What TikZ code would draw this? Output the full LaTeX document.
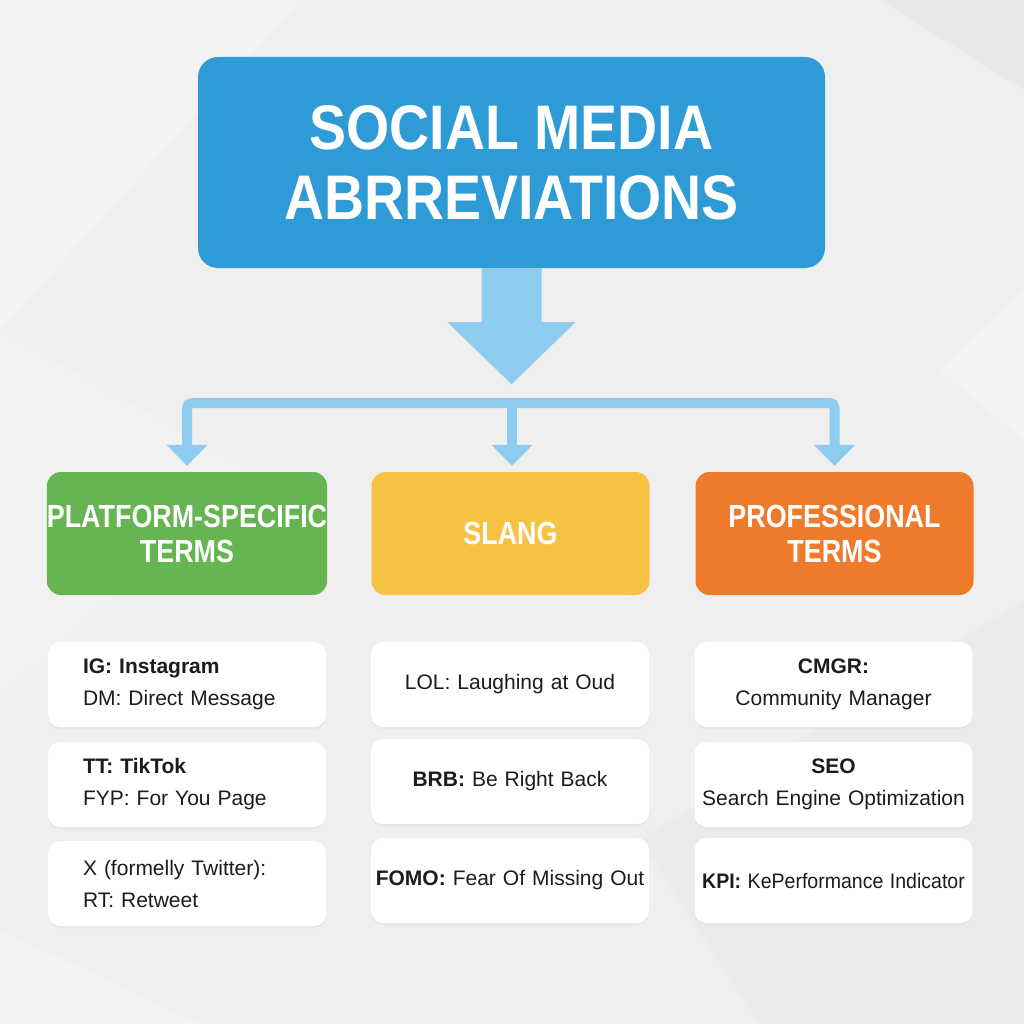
\documentclass[tikz,border=0pt]{standalone}
\usepackage{fontspec}
\setmainfont{Liberation Sans}
\usetikzlibrary{arrows.meta,shadows,calc}
\definecolor{bgc}{HTML}{EFEFEF}
\definecolor{titleblue}{HTML}{2F9BD6}
\definecolor{lightblue}{HTML}{8DCCEE}
\definecolor{catgreen}{HTML}{66B552}
\definecolor{catyellow}{HTML}{F5C243}
\definecolor{catorange}{HTML}{EE7B2C}
\definecolor{ink}{HTML}{1C1C1C}
\tikzset{
  titlebox/.style={fill=titleblue, rounded corners=20pt, minimum width=627pt, minimum height=211pt,
    text=white, align=center, font=\bfseries\fontsize{63}{70}\selectfont, inner sep=0pt},
  catbox/.style={fill=#1, rounded corners=14pt, minimum width=278pt, minimum height=123pt,
    text=white, align=center, font=\bfseries\fontsize{32}{35}\selectfont, inner sep=0pt},
  itembox/.style={fill=white, rounded corners=12pt, minimum width=278pt, minimum height=85pt,
    text=ink, font=\fontsize{21}{32}\selectfont,
    drop shadow={opacity=0.08, shadow xshift=0pt, shadow yshift=-2pt}},
  itemleft/.style={itembox, align=left, text width=208pt, inner xsep=35pt},
  itemcenter/.style={itembox, align=center, text width=270pt, inner xsep=4pt},
  conn/.style={draw=lightblue, line width=10pt, rounded corners=5pt,
    -{Triangle[length=21pt,width=40pt]}, shorten >=6pt},
}
\newcommand{\tsq}[1]{\scalebox{0.88}[1]{#1}}
\newcommand{\csq}[1]{\scalebox{0.84}[1]{#1}}
\begin{document}
\begin{tikzpicture}[x=1pt,y=-1pt]
\useasboundingbox (0,0) rectangle (1024,1024);
\fill[bgc] (0,0) rectangle (1024,1024);
% subtle background facets
\fill[white, opacity=0.3] (0,0) -- (300,0) -- (0,330) -- cycle;
\fill[white, opacity=0.18] (0,330) -- (250,470) -- (0,700) -- cycle;
\fill[black, opacity=0.025] (880,0) -- (1024,0) -- (1024,90) -- cycle;
\fill[white, opacity=0.25] (1024,290) -- (940,370) -- (1024,440) -- cycle;
\fill[black, opacity=0.015] (640,840) -- (1024,600) -- (1024,1024) -- (760,1024) -- cycle;
\fill[white, opacity=0.2] (0,930) -- (200,1024) -- (0,1024) -- cycle;

% title
\node[titlebox] (title) at (511.5,162.5) {\tsq{SOCIAL MEDIA}\\\tsq{ABRREVIATIONS}};

% big arrow
\fill[lightblue] ($(title.south)+(-30,0)$) -- ($(title.south)+(30,0)$) -- ($(title.south)+(30,54)$)
  -- ($(title.south)+(64,54)$) -- ($(title.south)+(0,116)$) -- ($(title.south)+(-64,54)$)
  -- ($(title.south)+(-30,54)$) -- cycle;

% categories
\node[catbox=catgreen] (plat) at (187,533.5) {\csq{PLATFORM-SPECIFIC}\\\csq{TERMS}};
\node[catbox=catyellow] (slang) at (510.5,533.5) {\csq{SLANG}};
\node[catbox=catorange] (prof) at (834.5,533.5) {\csq{PROFESSIONAL}\\\csq{TERMS}};

% connectors
\coordinate (hub) at (512,403);
\draw[conn] (hub) -| (plat.north);
\draw[conn] (hub) -| (prof.north);
\draw[conn] (hub) -- (hub |- slang.north);

% items
\node[itemleft] (p1) at (187,684.5) {\textbf{IG: Instagram}\\DM: Direct Message};
\node[itemleft] (p2) at (187,784.5) {\textbf{TT: TikTok}\\FYP: For You Page};
\node[itemleft] (p3) at (187,883.5) {X (formelly Twitter):\\RT: Retweet};

\node[itemcenter] (s1) at (510,684.5) {LOL: Laughing at Oud};
\node[itemcenter] (s2) at (510,781.5) {\textbf{BRB:} Be Right Back};
\node[itemcenter] (s3) at (510,880.5) {\textbf{FOMO:} Fear Of Missing Out};

\node[itemcenter] (r1) at (833.5,684.5) {\textbf{CMGR:}\\Community Manager};
\node[itemcenter] (r2) at (833.5,784.5) {\textbf{SEO}\\Search Engine Optimization};
\node[itemcenter] (r3) at (833.5,880.5) {\scalebox{0.93}[1]{\textbf{KPI:} KePerformance Indicator}};
\end{tikzpicture}
\end{document}
